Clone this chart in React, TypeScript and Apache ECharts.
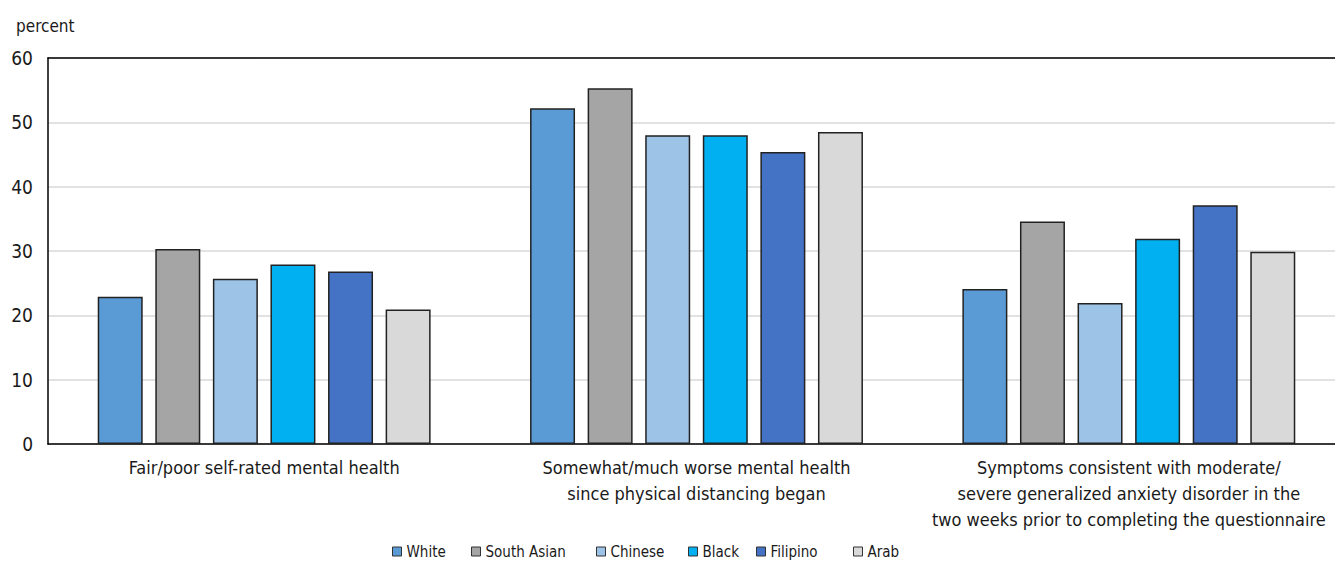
import React, { useEffect, useRef } from "react";
import * as echarts from "echarts";

const categories = [
  "Fair/poor self-rated mental health",
  "Somewhat/much worse mental health\nsince physical distancing began",
  "Symptoms consistent with moderate/\nsevere generalized anxiety disorder in the\ntwo weeks prior to completing the questionnaire",
];
const seriesNames = ["White", "South Asian", "Chinese", "Black", "Filipino", "Arab"];
const white = [22.9, 52.2, 24.1];
const southAsian = [30.3, 55.3, 34.6];
const chinese = [25.7, 48.0, 21.9];
const black = [27.9, 48.0, 31.9];
const filipino = [26.8, 45.4, 37.1];
const arab = [20.9, 48.5, 29.9];
const seriesValues = [white, southAsian, chinese, black, filipino, arab];
const colors = ["#5B9BD5", "#A5A5A5", "#9DC3E6", "#00B0F0", "#4472C4", "#D9D9D9"];
const legendLefts = [392, 471, 596, 688, 756, 853];

const FONT = "'DejaVu Sans Condensed', 'Liberation Sans', sans-serif";

export default function App() {
  const ref = useRef<HTMLDivElement>(null);
  useEffect(() => {
    if (!ref.current) return;
    const chart = echarts.init(ref.current, undefined, { renderer: "svg" });
    chart.setOption({
      animation: false,
      textStyle: { fontFamily: FONT, color: "#1a1a1a" },
      title: {
        text: "percent",
        left: 11,
        top: 12,
        textStyle: { fontFamily: FONT, fontSize: 17, fontWeight: "normal", color: "#1a1a1a" },
      },
      legend: seriesNames.map((n, i) => ({
        data: [n],
        left: legendLefts[i],
        top: 544,
        icon: "rect",
        itemWidth: 9,
        itemHeight: 9,
        itemGap: 0,
        padding: 0,
        textStyle: { fontFamily: FONT, fontSize: 15, color: "#1a1a1a" },
        itemStyle: { borderColor: "#333", borderWidth: 1 },
      })),
      grid: { left: 48, right: -10, top: 58, bottom: 119, outerBoundsMode: "none", containLabel: false },
      xAxis: [
        {
          type: "category",
          data: categories,
          axisLine: { show: true, lineStyle: { color: "#000", width: 1.5 } },
          axisTick: { show: false },
          axisLabel: {
            interval: 0,
            fontFamily: FONT,
            fontSize: 18,
            lineHeight: 26,
            color: "#1a1a1a",
            margin: 10,
          },
        },
        {
          type: "category",
          data: categories,
          position: "top",
          axisLine: { show: true, lineStyle: { color: "#000", width: 1.5 } },
          axisTick: { show: false },
          axisLabel: { show: false },
        },
      ],
      yAxis: {
        type: "value",
        min: 0,
        max: 60,
        interval: 10,
        axisLine: { show: true, lineStyle: { color: "#000", width: 1.5 } },
        axisTick: { show: false },
        axisLabel: { fontFamily: FONT, fontSize: 19, color: "#1a1a1a", margin: 15 },
        splitLine: { show: true, lineStyle: { color: "#d9d9d9", width: 1.5 } },
      },
      series: seriesNames.map((n, i) => ({
        name: n,
        type: "bar",
        data: seriesValues[i],
        barGap: "28%",
        barCategoryGap: "23%",
        itemStyle: { color: colors[i], borderColor: "#222", borderWidth: 1.5 },
      })),
    });
    return () => chart.dispose();
  }, []);
  return (
    <div
      ref={ref}
      style={{ position: "fixed", left: 0, top: 0, width: 1335, height: 563, background: "#fff" }}
    />
  );
}
